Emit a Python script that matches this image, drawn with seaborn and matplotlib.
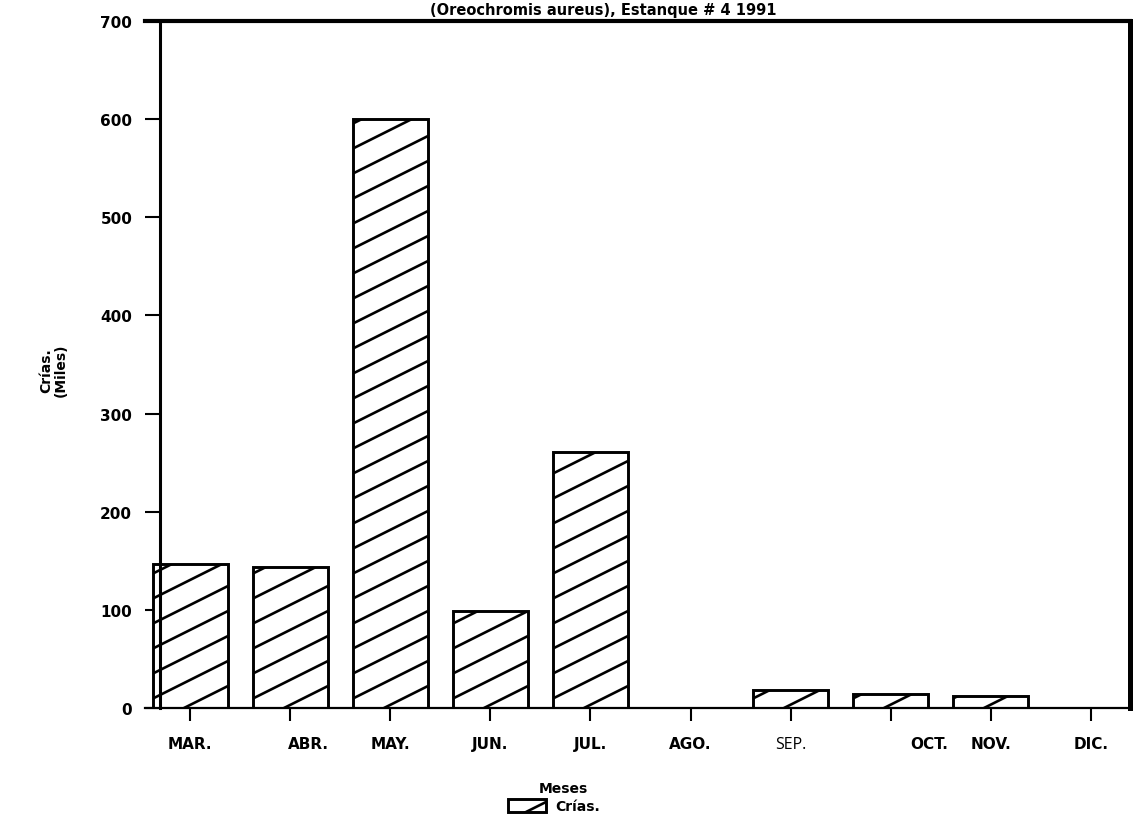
import numpy as np
import pandas as pd
import matplotlib
matplotlib.use("Agg")
import matplotlib.pyplot as plt
import matplotlib.hatch as mhatch
from matplotlib.path import Path
from matplotlib.transforms import ScaledTranslation
import seaborn as sns

# Monthly fry production (thousands)
meses = ["MAR.", "ABR.", "MAY.", "JUN.", "JUL.", "AGO.", "SEP.", "OCT.", "NOV.", "DIC."]
crias = [147, 144, 600, 99, 261, 0, 18, 14, 12, 0]
yticks = [0, 100, 200, 300, 400, 500, 600, 700]

titulo = "(Oreochromis aureus), Estanque # 4 1991"


# '/' hatch drawn with a shallow 1:2 slope, four lines per hatch cell
class ShallowNorthEastHatch(mhatch.HatchPatternBase):
    def __init__(self, hatch, density):
        n = hatch.count("/")
        if n:
            step = 1.0 / (4 * n)
            self.offsets = np.arange(-0.5, 1.0 + 1e-9, step)
        else:
            self.offsets = np.array([])
        self.num_lines = len(self.offsets)
        self.num_vertices = self.num_lines * 2

    def set_vertices_and_codes(self, vertices, codes):
        x0, x1 = -0.1, 1.1
        vertices[0::2, 0] = x0
        vertices[0::2, 1] = self.offsets + 0.5 * x0
        vertices[1::2, 0] = x1
        vertices[1::2, 1] = self.offsets + 0.5 * x1
        codes[0::2] = Path.MOVETO
        codes[1::2] = Path.LINETO


mhatch._hatch_types = [ShallowNorthEastHatch if t is mhatch.NorthEastHatch else t
                       for t in mhatch._hatch_types]

sns.set_style("white")
plt.rcParams["font.family"] = ["DejaVu Sans"]
plt.rcParams["font.weight"] = "bold"
plt.rcParams["text.color"] = "black"
plt.rcParams["axes.labelcolor"] = "black"
plt.rcParams["hatch.linewidth"] = 1.9
plt.rcParams["hatch.color"] = "black"

df = pd.DataFrame({"Mes": meses, "Crias": crias})

W, H = 1134, 828
fig = plt.figure(figsize=(W / 100, H / 100), dpi=100)
fig.patch.set_facecolor("white")
ax = fig.add_axes([145 / W, 1 - 709 / H, 985 / W, 687 / H])

sns.barplot(data=df, x="Mes", y="Crias", order=meses, width=0.75,
            color="white", saturation=1, edgecolor="black", linewidth=2.1,
            hatch="/", label="Crías.", ax=ax)

ax.set_xlim(-0.45, 9.39)
ax.set_ylim(0, 700)
ax.set_yticks(yticks)
ax.set_yticklabels([str(v) for v in yticks])

# frame
for side in ["top", "bottom", "left", "right"]:
    ax.spines[side].set_visible(True)
    ax.spines[side].set_color("black")
ax.spines["top"].set_linewidth(3.0)
ax.spines["right"].set_linewidth(3.6)
ax.spines["left"].set_linewidth(2.2)
ax.spines["bottom"].set_linewidth(1.6)
ax.spines["left"].set_position(("axes", 15 / 985))

ax.tick_params(axis="y", direction="out", length=11, width=1.5, pad=9,
               labelsize=11, left=True, colors="black")
ax.tick_params(axis="x", direction="out", length=9, width=1.5, pad=11,
               labelsize=11, bottom=True, colors="black")
for lab in ax.get_yticklabels() + ax.get_xticklabels():
    lab.set_fontweight("bold")

# irregular label placement along the month axis
shift_pts = {"ABR.": 13, "OCT.": 28}
for lab in ax.get_xticklabels():
    dx = shift_pts.get(lab.get_text(), 0)
    if dx:
        lab.set_transform(lab.get_transform() +
                          ScaledTranslation(dx / 72, 0, fig.dpi_scale_trans))
    if lab.get_text() == "SEP.":
        lab.set_fontfamily("Open Sans")
        lab.set_fontweight("normal")
        lab.set_fontsize(11.5)

ax.set_xlabel("Meses", fontsize=10, fontweight="bold", va="top")
ax.xaxis.set_label_coords(0.425, -0.106)
ax.set_ylabel("Crías.\n(Miles)", fontsize=10, fontweight="bold",
              rotation=90, va="center", ha="center", linespacing=1.0)
ax.yaxis.set_label_coords(-0.093, 0.493)

fig.text(603 / W, 1 - 15 / H, titulo, ha="center", va="baseline",
         fontsize=10.5, fontweight="bold")

leg = ax.legend(loc="center", bbox_to_anchor=(554 / W, 1 - 807 / H),
                bbox_transform=fig.transFigure, frameon=False,
                handlelength=2.7, handleheight=1.1, handletextpad=0.7,
                borderpad=0, prop={"size": 10, "weight": "bold"})

fig.savefig("out.png", dpi=100, facecolor="white")
